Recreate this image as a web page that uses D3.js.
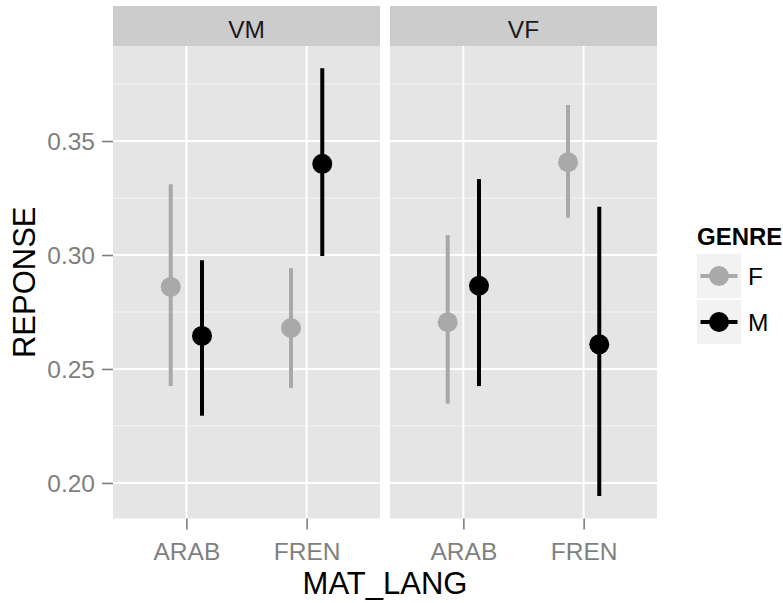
<!DOCTYPE html>
<html><head><meta charset="utf-8">
<script src="https://cdn.jsdelivr.net/npm/d3@7/dist/d3.min.js"></script>
<style>body{margin:0;background:#fff}svg{display:block}text{font-family:Arial,"Liberation Sans",sans-serif}</style>
</head><body><svg id="c" width="783" height="603"></svg>
<script>
const facets = ["VM", "VF"];
const categories = ["ARAB", "FREN"];
const genres = ["F", "M"];
const genreColors = ["#A9A9A9", "#000000"];
const yTicks = [0.20, 0.25, 0.30, 0.35];
const yMinor = [0.225, 0.275, 0.325, 0.375];
// rows: facet, category, genre, mean, lower, upper
const rowFacet = ["VM", "VM", "VM", "VM", "VF", "VF", "VF", "VF"];
const rowCat   = ["ARAB", "ARAB", "FREN", "FREN", "ARAB", "ARAB", "FREN", "FREN"];
const rowGenre = ["F", "M", "F", "M", "F", "M", "F", "M"];
const rowMean  = [0.2860, 0.2645, 0.2680, 0.3400, 0.2705, 0.2865, 0.3407, 0.2608];
const rowLow   = [0.2425, 0.2295, 0.2417, 0.2996, 0.2347, 0.2425, 0.3164, 0.1943];
const rowHigh  = [0.3310, 0.2977, 0.2942, 0.3819, 0.3088, 0.3333, 0.3658, 0.3212];

const svg = d3.select("#c");
const plotL = 113, plotR = 657, gap = 10;
const stripT = 6, stripB = 46, panelB = 518.5;
const pw = (plotR - plotL - gap) / 2;
const smallFs = 24.5, titleFs = 31;

const y = d3.scaleLinear().domain([0.1844, 0.3917]).range([panelB, stripB]);
const color = d3.scaleOrdinal().domain(genres).range(genreColors);
const dodge = d3.scaleOrdinal().domain(genres).range([-0.13, 0.13]);
const catIdx = d3.scaleOrdinal().domain(categories).range([1, 2]);

facets.forEach((f, i) => {
  const x0 = plotL + i * (pw + gap);
  const x = d3.scaleLinear().domain([0.39, 2.61]).range([x0, x0 + pw]);
  const g = svg.append("g");
  // panel background
  g.append("rect").attr("x", x0).attr("y", stripB).attr("width", pw).attr("height", panelB - stripB).attr("fill", "#E5E5E5");
  // minor grid
  g.selectAll(".mn").data(yMinor).enter().append("line")
    .attr("x1", x0).attr("x2", x0 + pw).attr("y1", d => y(d)).attr("y2", d => y(d))
    .attr("stroke", "#F2F2F2").attr("stroke-width", 1.3);
  // major grid
  g.selectAll(".mj").data(yTicks).enter().append("line")
    .attr("x1", x0).attr("x2", x0 + pw).attr("y1", d => y(d)).attr("y2", d => y(d))
    .attr("stroke", "#FFFFFF").attr("stroke-width", 2);
  g.selectAll(".vx").data(categories).enter().append("line")
    .attr("x1", d => x(catIdx(d))).attr("x2", d => x(catIdx(d))).attr("y1", stripB).attr("y2", panelB)
    .attr("stroke", "#FFFFFF").attr("stroke-width", 2);
  // strip
  g.append("rect").attr("x", x0).attr("y", stripT).attr("width", pw).attr("height", stripB - stripT).attr("fill", "#CCCCCC");
  g.append("text").attr("x", x0 + pw / 2).attr("y", 37.5).attr("text-anchor", "middle")
    .attr("font-size", smallFs).attr("fill", "#1A1A1A").text(f);
  // x axis
  const xa = d3.axisBottom(x).tickValues(categories.map(c => catIdx(c)))
    .tickFormat((d, k) => categories[k]).tickSize(11).tickPadding(8);
  const ax = g.append("g").attr("transform", `translate(0,${panelB})`).call(xa);
  ax.select(".domain").remove();
  ax.selectAll(".tick line").attr("stroke", "#7F7F7F").attr("stroke-width", 1.6);
  ax.selectAll(".tick text").attr("font-size", smallFs).attr("fill", "#7F7F7F")
    .attr("font-family", "Arial, 'Liberation Sans', sans-serif").attr("dy", 0).attr("y", 41);
  // data
  const idx = d3.range(rowFacet.length).filter(k => rowFacet[k] === f);
  g.selectAll(".er").data(idx).enter().append("line")
    .attr("x1", k => x(catIdx(rowCat[k]) + dodge(rowGenre[k])))
    .attr("x2", k => x(catIdx(rowCat[k]) + dodge(rowGenre[k])))
    .attr("y1", k => y(rowLow[k])).attr("y2", k => y(rowHigh[k]))
    .attr("stroke", k => color(rowGenre[k])).attr("stroke-width", 4);
  g.selectAll(".pt").data(idx).enter().append("circle")
    .attr("cx", k => x(catIdx(rowCat[k]) + dodge(rowGenre[k])))
    .attr("cy", k => y(rowMean[k])).attr("r", 10)
    .attr("fill", k => color(rowGenre[k]));
});

// y axis
const ya = d3.axisLeft(y).tickValues(yTicks).tickFormat(d3.format(".2f")).tickSize(11).tickPadding(7);
const ay = svg.append("g").attr("transform", `translate(${plotL},0)`).call(ya);
ay.select(".domain").remove();
ay.selectAll(".tick line").attr("stroke", "#7F7F7F").attr("stroke-width", 1.6);
ay.selectAll(".tick text").attr("font-size", smallFs).attr("fill", "#7F7F7F")
  .attr("font-family", "Arial, 'Liberation Sans', sans-serif").attr("dy", "0.36em");

// axis titles
svg.append("text").attr("x", (plotL + plotR) / 2).attr("y", 594).attr("text-anchor", "middle")
  .attr("font-size", titleFs).attr("fill", "#000").text("MAT_LANG");
svg.append("text").attr("transform", `translate(35,${(stripB + panelB) / 2}) rotate(-90)`)
  .attr("text-anchor", "middle").attr("font-size", titleFs).attr("fill", "#000").text("REPONSE");

// legend
const lg = svg.append("g");
lg.append("text").attr("x", 697).attr("y", 244.5).attr("font-size", 24).attr("font-weight", "bold")
  .attr("fill", "#000").text("GENRE");
genres.forEach((gname, k) => {
  const ky = 253 + k * 46;
  lg.append("rect").attr("x", 696).attr("y", ky).attr("width", 46).attr("height", 46)
    .attr("fill", "#F2F2F2").attr("stroke", "#FFFFFF").attr("stroke-width", 1.5);
  lg.append("line").attr("x1", 700.5).attr("x2", 737.5).attr("y1", ky + 23).attr("y2", ky + 23)
    .attr("stroke", color(gname)).attr("stroke-width", 4);
  lg.append("circle").attr("cx", 719).attr("cy", ky + 23).attr("r", 10).attr("fill", color(gname));
  lg.append("text").attr("x", 748).attr("y", ky + 23).attr("dy", "0.36em").attr("font-size", smallFs)
    .attr("fill", "#000").text(gname);
});
</script></body></html>
